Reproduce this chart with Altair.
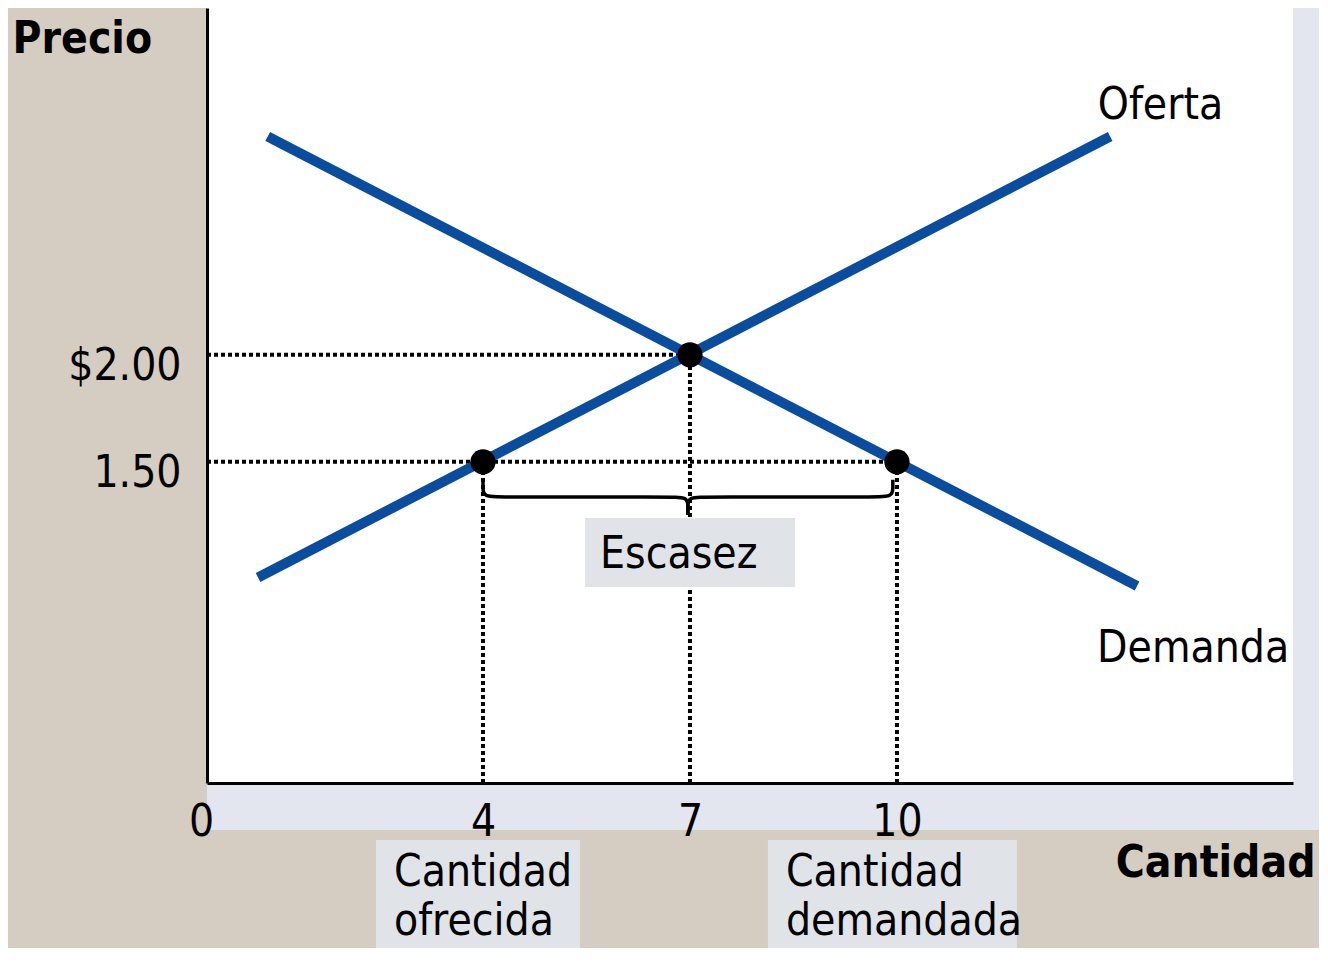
import altair as alt
import pandas as pd

# ---- data ----
supply_q = [0.74, 13.09]
supply_p = [0.96, 3.02]
demand_q = [0.88, 13.48]
demand_p = [3.02, 0.92]

point_q = [4, 7, 10]
point_p = [1.5, 2.0, 1.5]

hguide_p = [2.0, 1.5]
hguide_q_end = [7, 10]
vguide_q = [4, 7, 10]
vguide_p_end = [1.5, 2.0, 1.5]

x_ticks = [0, 4, 7, 10]
y_ticks = [1.5, 2.0]
y_tick_labels = ["1.50", "$2.00"]

brace_left_q = [4.0, 4.0, 4.0, 4.3, 6.7, 6.97, 6.97, 6.97]
brace_left_p = [1.416, 1.38, 1.336, 1.336, 1.336, 1.336, 1.29, 1.252]
brace_right_q = [9.94, 9.94, 9.94, 9.64, 7.24, 6.97, 6.97, 6.97]
brace_right_p = [1.416, 1.38, 1.336, 1.336, 1.336, 1.336, 1.29, 1.252]

box_q = [5.478, 2.449, 8.13]
box_q2 = [8.522, 5.406, 11.74]
box_p = [1.238, -0.266, -0.266]
box_p2 = [0.916, -0.86, -0.86]

label_text = ["Oferta", "Demanda", "Escasez", "Cantidad", "ofrecida", "Cantidad", "demandada"]
label_q = [12.91, 12.90, 5.696, 2.71, 2.71, 8.39, 8.39]
label_p = [3.103, 0.565, 1.005, -0.481, -0.712, -0.481, -0.712]

shadow_q = [15.74, 0.0]
shadow_q2 = [16.6, 16.6]
shadow_p = [-0.22, -0.22]
shadow_p2 = [3.65, 0.0]

X_DOMAIN = [0, 15.74]
Y_DOMAIN = [0, 3.62]

FONT = "DejaVu Sans Condensed, DejaVu Sans, sans-serif"
BLUE = "#0A4C9D"

# ---- tables ----
lines_df = pd.DataFrame({
    "q": supply_q + demand_q,
    "p": supply_p + demand_p,
    "serie": ["Oferta"] * len(supply_q) + ["Demanda"] * len(demand_q),
})
points_df = pd.DataFrame({"q": point_q, "p": point_p})
hguide_df = pd.DataFrame({"q": [0] * len(hguide_p), "q2": hguide_q_end, "p": hguide_p})
vguide_df = pd.DataFrame({"q": vguide_q, "p": [0] * len(vguide_q), "p2": vguide_p_end})
brace_df = pd.DataFrame({
    "q": brace_left_q + brace_right_q,
    "p": brace_left_p + brace_right_p,
    "half": ["L"] * len(brace_left_q) + ["R"] * len(brace_right_q),
    "o": list(range(len(brace_left_q))) + list(range(len(brace_right_q))),
})
box_df = pd.DataFrame({"q": box_q, "q2": box_q2, "p": box_p, "p2": box_p2})
text_df = pd.DataFrame({"q": label_q, "p": label_p, "t": label_text})
shadow_df = pd.DataFrame({"q": shadow_q, "q2": shadow_q2, "p": shadow_p, "p2": shadow_p2})

y_expr = " : ".join(
    [f"datum.value == {v} ? '{l}'" for v, l in zip(y_ticks, y_tick_labels)]
) + " : ''"

xs = alt.Scale(domain=X_DOMAIN, nice=False, zero=False)
ys = alt.Scale(domain=Y_DOMAIN, nice=False, zero=False)

x_axis = alt.Axis(
    values=x_ticks, format="d", ticks=False, grid=False, labelPadding=52,
    labelOffset={"condition": {"test": "datum.value == 0", "value": -6}, "value": 0},
    labelBaseline="alphabetic", labelFontSize=44, labelFont=FONT, labelColor="black",
    labelOverlap=False, labelFlush=False,
    domainColor="black", domainWidth=3, zindex=1,
    title="Cantidad", titleX=1108, titleY=93, titleAlign="right",
    titleBaseline="alphabetic", titleFontSize=44, titleFont=FONT,
    titleFontWeight="bold", titleColor="black",
)
y_axis = alt.Axis(
    values=y_ticks, labelExpr=y_expr, ticks=False, grid=False, labelPadding=26,
    labelBaseline="alphabetic", labelOffset=25, labelFontSize=44, labelFont=FONT,
    labelColor="black", labelOverlap=False, labelFlush=False,
    domainColor="black", domainWidth=3, zindex=1,
    title="Precio", titleAngle=0, titleX=-195, titleY=44, titleAlign="left",
    titleBaseline="alphabetic", titleFontSize=44, titleFont=FONT,
    titleFontWeight="bold", titleColor="black",
)

shadow = alt.Chart(shadow_df).mark_rect(color="#E3E6EE").encode(
    x=alt.X("q:Q", scale=xs, axis=x_axis), x2="q2",
    y=alt.Y("p:Q", scale=ys, axis=y_axis), y2="p2",
)

hguides = alt.Chart(hguide_df).mark_rule(
    color="black", strokeWidth=4, strokeDash=[4, 3]
).encode(x="q:Q", x2="q2", y="p:Q")

vguides = alt.Chart(vguide_df).mark_rule(
    color="black", strokeWidth=4, strokeDash=[4, 3]
).encode(x="q:Q", y="p:Q", y2="p2")

curves = alt.Chart(lines_df).mark_line(color=BLUE, strokeWidth=10).encode(
    x="q:Q", y="p:Q", detail="serie:N"
)

points = alt.Chart(points_df).mark_circle(color="black", opacity=1, size=640).encode(
    x="q:Q", y="p:Q"
)

brace = alt.Chart(brace_df).mark_line(
    color="black", strokeWidth=3.5, interpolate="basis"
).encode(x="q:Q", y="p:Q", detail="half:N", order="o:Q")

boxes = alt.Chart(box_df).mark_rect(color="#E0E3E8").encode(
    x="q:Q", x2="q2", y="p:Q", y2="p2"
)

texts = alt.Chart(text_df).mark_text(
    align="left", baseline="alphabetic", fontSize=44, font=FONT, color="black"
).encode(x="q:Q", y="p:Q", text="t:N")

chart = alt.layer(
    shadow, hguides, vguides, curves, points, brace, boxes, texts
).properties(
    width=1086, height=775,
    autosize=alt.AutoSizeParams(type="none"),
    padding={"left": 199, "top": 0, "right": 26, "bottom": 165},
    background="#D5CDC2",
).configure_view(fill="white", stroke=None)

chart.save("out.html", embed_options={"renderer": "svg", "actions": False})
